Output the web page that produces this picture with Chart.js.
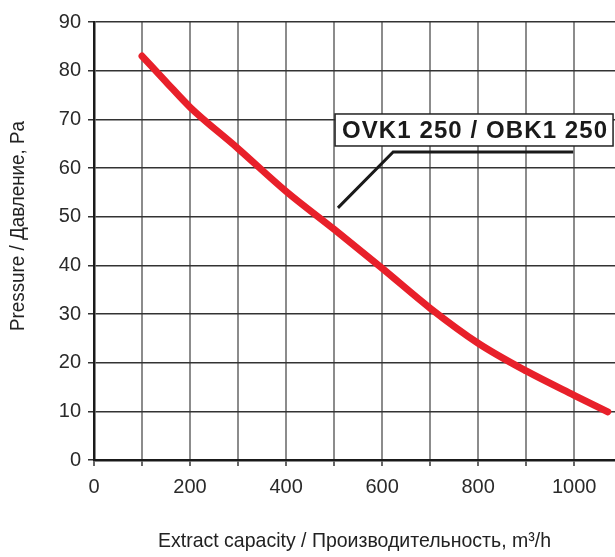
<!DOCTYPE html>
<html>
<head>
<meta charset="utf-8">
<script src="https://cdn.jsdelivr.net/npm/chart.js@4"></script>
<style>
  html, body { margin: 0; padding: 0; background: #fff; }
  #wrap { width: 615px; height: 557px; }
</style>
</head>
<body>
<div id="wrap"><canvas id="fanChart" width="615" height="557"></canvas></div>
<script>
// curve
const flowValues = [100, 150, 200, 300, 400, 500, 600, 700, 800, 900, 1000, 1070];
const pressureValues = [83, 77.7, 72.5, 64, 55.2, 47.4, 39.4, 31.2, 24.0, 18.3, 13.3, 9.9];

// leader line of the label
const leaderX = [508, 623, 998];
const leaderY = [51.8, 63.3, 63.3];

const xTicks = [0, 200, 400, 600, 800, 1000];
const yTicks = [0, 10, 20, 30, 40, 50, 60, 70, 80, 90];

const modelLabel = 'OVK1 250 / OBK1 250';
const xTitle = 'Extract capacity / Производительность, m³/h';
const yTitle = 'Pressure / Давление, Pa';

const narrow = '"Liberation Sans Narrow", "Arial Narrow", "Liberation Sans", sans-serif';

const overlay = {
    id: 'overlay',
    afterDatasetsDraw(chart) {
        const ctx = chart.ctx;
        const x = chart.scales.x, y = chart.scales.y;

        // model label box
        const bx = x.getPixelForValue(502), by = y.getPixelForValue(71.1);
        const bw = 278, bh = 32;
        ctx.save();
        ctx.fillStyle = '#fff';
        ctx.fillRect(bx, by, bw, bh);
        ctx.strokeStyle = '#222';
        ctx.lineWidth = 1.5;
        ctx.strokeRect(bx, by, bw, bh);
        ctx.fillStyle = '#1a1a1a';
        ctx.font = 'bold 24px "Liberation Sans", Arial, sans-serif';
        ctx.textAlign = 'center';
        ctx.textBaseline = 'middle';
        const w = ctx.measureText(modelLabel).width;
        if ('letterSpacing' in ctx && w < 265) {
            ctx.letterSpacing = ((265 - w) / (modelLabel.length - 1)).toFixed(2) + 'px';
        }
        ctx.fillText(modelLabel, bx + bw / 2 + 1, by + bh / 2 + 1, 268);
        ctx.restore();
    },
    afterDraw(chart) {
        const ctx = chart.ctx;
        const area = chart.chartArea;
        ctx.save();
        ctx.fillStyle = '#222';
        ctx.font = '21px ' + narrow;
        ctx.textAlign = 'center';
        ctx.textBaseline = 'middle';
        ctx.fillText(xTitle, (area.left + area.right) / 2, 541, 393);
        ctx.translate(18, 226);
        ctx.rotate(-Math.PI / 2);
        ctx.fillText(yTitle, 0, 0, 210);
        ctx.restore();
    }
};

try {
    const canvas = document.getElementById('fanChart');
    new Chart(canvas.getContext('2d'), {
        type: 'line',
        data: {
            datasets: [{
                data: flowValues.map((v, i) => ({ x: v, y: pressureValues[i] })),
                borderColor: '#e8202a',
                borderWidth: 7,
                borderCapStyle: 'round',
                pointRadius: 0,
                cubicInterpolationMode: 'monotone',
                fill: false
            }, {
                data: leaderX.map((v, i) => ({ x: v, y: leaderY[i] })),
                borderColor: '#1a1a1a',
                borderWidth: 3,
                pointRadius: 0,
                tension: 0,
                fill: false
            }]
        },
        options: {
            responsive: false,
            animation: false,
            events: [],
            layout: { padding: { top: 22, right: 0, left: 0, bottom: 0 } },
            plugins: { legend: { display: false }, tooltip: { enabled: false } },
            scales: {
                x: {
                    type: 'linear',
                    min: 0, max: 1085,
                    afterFit: s => { s.height = 97; },
                    afterBuildTicks: s => { s.ticks = [0,100,200,300,400,500,600,700,800,900,1000].map(v => ({ value: v })); },
                    ticks: {
                        callback: v => xTicks.includes(v) ? v : '',
                        autoSkip: false, maxRotation: 0,
                        color: '#2a2a2a',
                        font: { size: 20, family: '"Liberation Sans", Arial, sans-serif' },
                        padding: 9
                    },
                    grid: { color: '#8c8c8c', lineWidth: 2, tickLength: 6, tickColor: '#333', tickWidth: 1.5 },
                    border: { color: '#1a1a1a', width: 2.5 }
                },
                y: {
                    min: 0, max: 90,
                    afterFit: s => { s.width = 94; },
                    afterBuildTicks: s => { s.ticks = yTicks.map(v => ({ value: v })); },
                    ticks: {
                        color: '#2a2a2a',
                        font: { size: 20, family: '"Liberation Sans", Arial, sans-serif' },
                        padding: 7
                    },
                    grid: { color: '#333', lineWidth: 1.5, tickLength: 6, tickColor: '#333' },
                    border: { color: '#1a1a1a', width: 2.5 }
                }
            }
        },
        plugins: [overlay]
    });
} catch (e) { console.warn('Chart failed', e); }
</script>
</body>
</html>
